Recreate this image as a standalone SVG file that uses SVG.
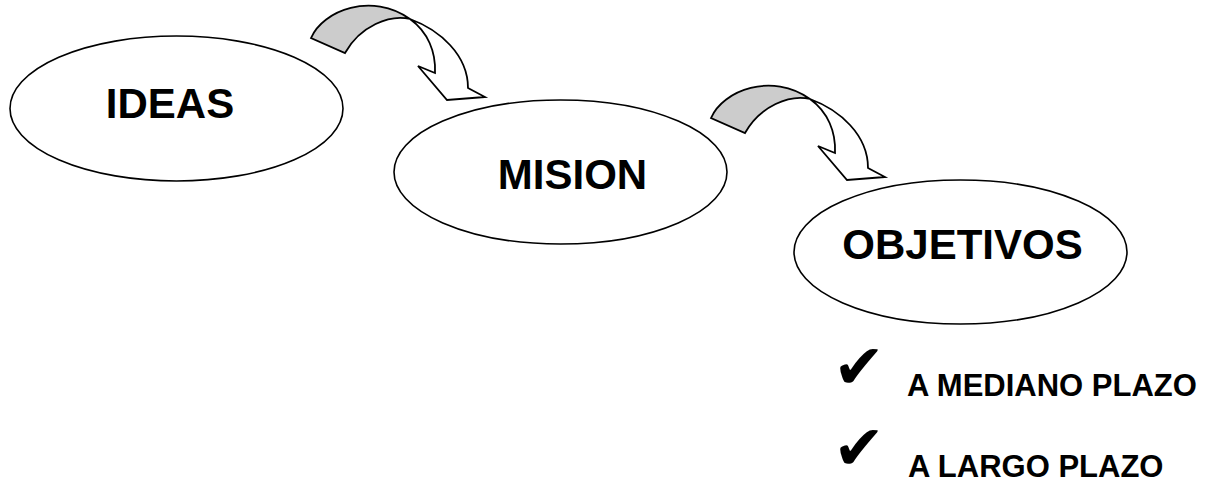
<svg xmlns="http://www.w3.org/2000/svg" width="1215" height="483" viewBox="0 0 1215 483">
<style>
.node{fill:#fff;stroke:#000;stroke-width:1.6}
.lbl{font-family:"Liberation Sans",Arial,sans-serif;font-weight:bold;font-size:42px;fill:#000;text-anchor:middle}
.item{font-family:"Liberation Sans",Arial,sans-serif;font-weight:bold;font-size:31px;fill:#000}
.chk{font-family:"DejaVu Sans",sans-serif;font-size:62px;fill:#000}
.back{fill:#cccccc;stroke:#000;stroke-width:1.8;stroke-linejoin:miter}
.front{fill:#fff;stroke:#000;stroke-width:1.8;stroke-linejoin:miter}
</style>
<defs>
<g id="curved">
<path class="back" d="M311,38 C323,10 372,-8 410,19 C390,14 360,26 345,53 Z"/>
<path class="front" d="M410,19 C440,30 468,55 468,88 L485,97 L447,100 L418,66 L435,73 C436,52 428,32 410,19 Z"/>
</g>
</defs>
<g id="connectors">
<use href="#curved"/>
<use href="#curved" transform="translate(400,80)"/>
</g>
<g id="ideas">
<ellipse class="node" cx="176.5" cy="108.5" rx="166.5" ry="72.5"/>
<text class="lbl" x="170" y="118">IDEAS</text>
</g>
<g id="mision">
<ellipse class="node" cx="560.5" cy="172" rx="166.5" ry="72"/>
<text class="lbl" x="572.5" y="189">MISION</text>
</g>
<g id="objetivos">
<ellipse class="node" cx="960.5" cy="252" rx="166.5" ry="72"/>
<text class="lbl" x="962.5" y="259">OBJETIVOS</text>
</g>
<g id="list">
<text class="chk" x="833" y="388">✔</text>
<text class="item" x="907" y="396">A MEDIANO PLAZO</text>
<text class="chk" x="833" y="469">✔</text>
<text class="item" x="908" y="477">A LARGO PLAZO</text>
</g>
</svg>
